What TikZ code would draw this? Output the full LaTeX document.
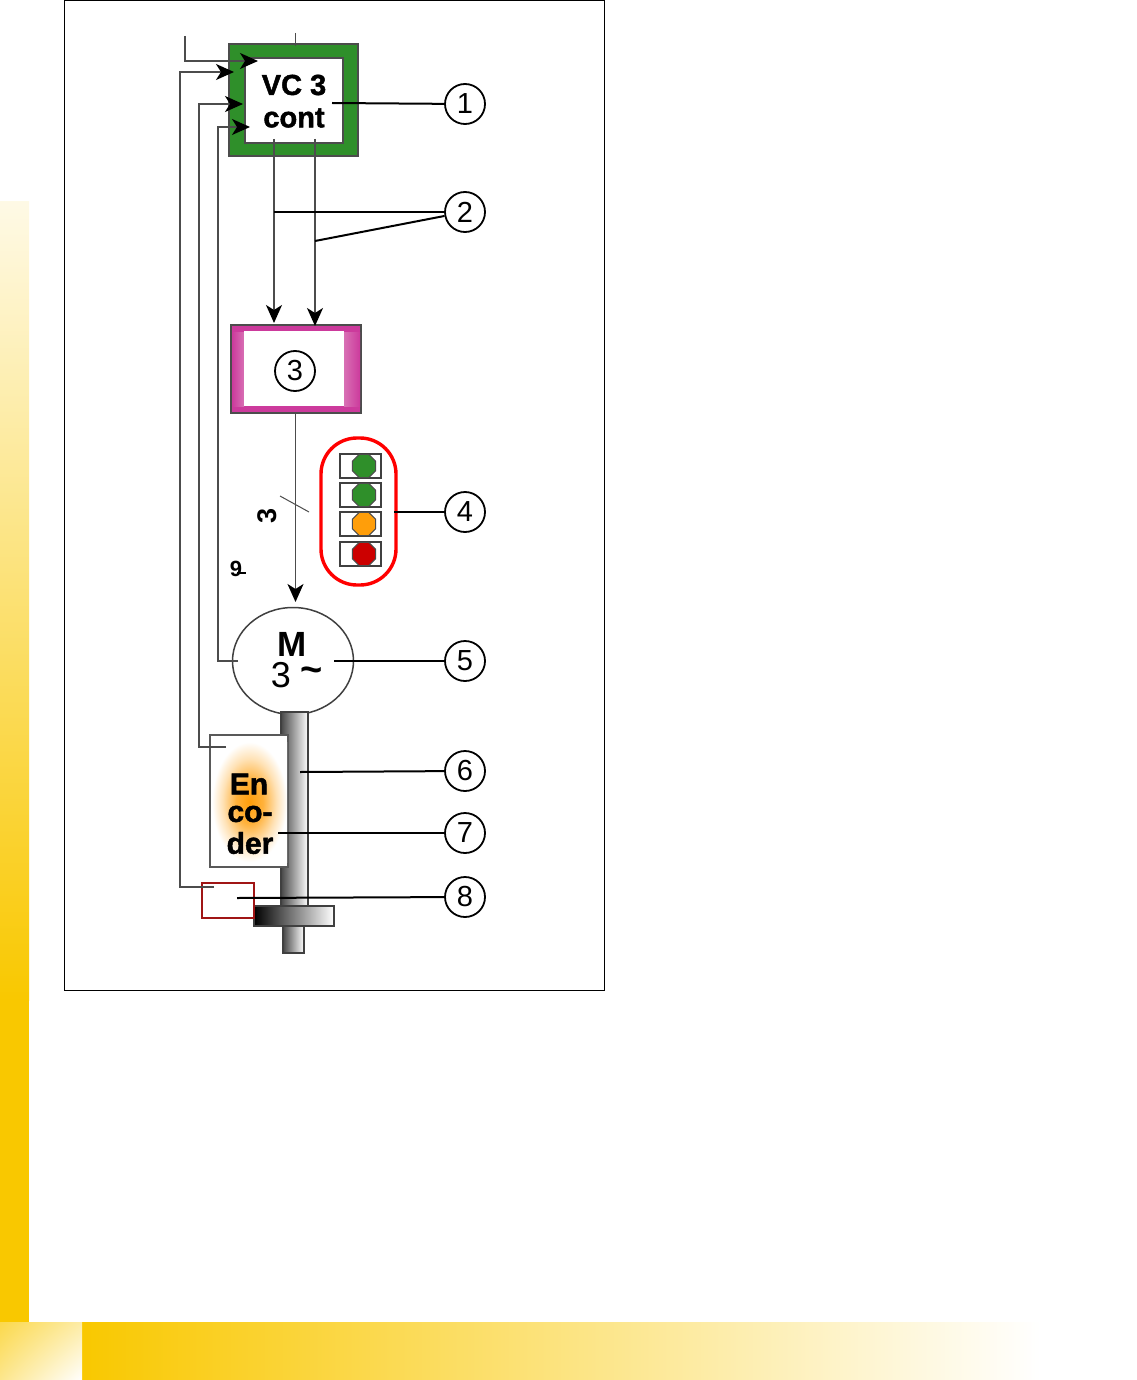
\documentclass[tikz,border=0pt]{standalone}
\usepackage{fontspec}
\setmainfont{Liberation Sans}
\newfontfamily\heavy[FakeBold=1.6]{Liberation Sans Bold}
\usetikzlibrary{arrows.meta,shapes.geometric,calc,shadings}
\definecolor{vcgreen}{HTML}{2F8F2A}
\definecolor{pinkb}{HTML}{CC3A9C}
\definecolor{pinkl}{HTML}{D870B4}
\definecolor{amber}{HTML}{FF9E0A}
\definecolor{stopred}{HTML}{CC0000}
\definecolor{darkred}{HTML}{A01515}
\definecolor{gold}{HTML}{F9C800}
\pgfdeclareradialshading{glow}{\pgfpoint{0bp}{0bp}}{color(0bp)=(amber); color(9bp)=(amber!80!white); color(18bp)=(amber!30!white); color(25bp)=(white); color(50bp)=(white)}
\tikzset{
  x=1pt,y=-1pt,
  wire/.style={draw=black!70,line width=1.6pt},
  leader/.style={draw=black,line width=2pt},
  tipped/.style={wire,-{Stealth[length=18pt,width=16pt,inset=5pt,black]}},
  numc/.style={circle,draw=black,line width=1.8pt,minimum size=40pt,inner sep=0pt,font=\fontsize{29}{29}\selectfont,fill=white},
  lampbox/.style={draw=black!75,fill=white,line width=1.2pt,minimum width=41pt,minimum height=24pt,inner sep=0pt},
  lamp/.style={regular polygon,regular polygon sides=8,draw=black!70,line width=1pt,minimum size=25pt,inner sep=0pt},
  btext/.style={font=\fontsize{29}{29}\heavy\selectfont,inner sep=0pt},
  enctext/.style={font=\fontsize{30}{30}\heavy\selectfont,inner sep=0pt},
  pt/.style={inner sep=0pt,minimum size=0pt},
}
\begin{document}
\begin{tikzpicture}
\useasboundingbox (0,0) rectangle (1136,1380);
% page decoration
\shade[top color=gold!10!white,bottom color=gold] (0,202) rectangle (29,1000);
\fill[gold] (0,1000) rectangle (29,1322);
\shade[left color=gold,right color=white] (82,1322) rectangle (1040,1380);
\shade[upper left=gold!70!white,upper right=gold!35!white,lower left=gold!45!white,lower right=white] (0,1322) rectangle (82,1380);
% frame
\node[draw=black,line width=1pt,fill=white,minimum width=540pt,minimum height=989.5pt,inner sep=0pt] (frame) at (334,495.5) {};
% controller
\fill[vcgreen,draw=black!70,line width=1.5pt,even odd rule] (229,44) rectangle (358,156) (245,58) rectangle (343,143);
\node[pt,minimum width=98pt,minimum height=85pt] (vc) at (294,100.5) {};
\node[btext] (vct) at (294,85) {VC 3};
\node[btext] (vcc) at (294,118) {cont};
% drive
\fill[pinkb,draw=black!70,line width=1.5pt] (231,325) rectangle (361,413);
\shade[left color=pinkb,right color=pinkl] (232,332) rectangle (244,406);
\shade[left color=pinkl,right color=pinkb] (344,332) rectangle (360,406);
\fill[white] (244,331) rectangle (344,406);
\node[numc] (n3) at (295,371) {3};
% lamps
\node[draw=red,line width=3.4pt,rounded corners=36pt,minimum width=75pt,minimum height=147pt,inner sep=0pt] (signal) at (358.5,511.5) {};
\foreach \nm/\yy/\cc in {a/466/vcgreen,b/495/vcgreen,c/524/amber,d/554/stopred}{
  \node[lampbox] (box\nm) at (360.5,\yy) {};
  \node[lamp,fill=\cc] (lamp\nm) at (364,\yy) {};
}
% motor
\node[ellipse,draw=black!75,line width=1.5pt,fill=white,minimum width=121pt,minimum height=107pt,inner sep=0pt] (motor) at (293,661) {};
\node[font=\fontsize{35}{35}\bfseries\selectfont,inner sep=0pt] (mm) at (292,644) {M};
\node[font=\fontsize{36}{36}\selectfont,inner sep=0pt] (mt) at (281,675) {3};
\node[font=\fontsize{38}{38}\bfseries\selectfont,inner sep=0pt] (mw) at (312,675) {\char"7E};
% shaft
\shade[left color=black!72,middle color=black!12,right color=white,draw=black!75,line width=1.5pt] (281,712) rectangle (308,906);
\shade[left color=black!72,middle color=black!15,right color=white,draw=black!75,line width=1.5pt] (283,926) rectangle (304,953);
\shade[left color=black,right color=white,draw=black!75,line width=1.5pt] (254,906) rectangle (334,926);
% encoder
\node[draw=black!65,line width=1.5pt,fill=white,minimum width=78pt,minimum height=132pt,inner sep=0pt] (enc) at (249,801) {};
\shade[shading=glow] (212,742) rectangle (287,862);
\node[enctext] (encA) at (249,784) {En};
\node[enctext] (encB) at (250,814) {co-};
\node[enctext] (encC) at (250,843) {der};
% sensor
\node[draw=darkred,line width=2.6pt,minimum width=52pt,minimum height=35pt,inner sep=0pt] (sensor) at (228,900.5) {};
% free ends
\coordinate (t1) at (295.5,33); \coordinate (t2) at (295.5,46);
\coordinate (a0) at (185,36);
\coordinate (a1) at (258,61);
\coordinate (b1) at (234,72);
\coordinate (c1) at (243,104);
\coordinate (d1) at (250,127);
\coordinate (sb) at (214,887);
\coordinate (eb) at (226,747);
\coordinate (mb) at (238,661);
\coordinate (o1) at (274,139);
\coordinate (o2) at (315,139);
\coordinate (i1) at (274,323);
\coordinate (i2) at (315,326);
\coordinate (dr) at (295.5,413);
\coordinate (mi) at (295.5,602);
\coordinate (ta) at (280,496);
\coordinate (tb) at (309,512);
\coordinate (g1) at (237,573);
\coordinate (g2) at (246,573);
% connectors
\draw[wire] (t1) -- (t2);
\draw[tipped] (a0) |- (a1);
\draw[tipped] (sb) -| (180,72) -- (b1);
\draw[tipped] (eb) -| (199,104) -- (c1);
\draw[tipped] (mb) -| (218,127) -- (d1);
\draw[tipped] (o1) -- (i1);
\draw[tipped] (o2) -- (i2);
\draw[tipped] (dr) -- (mi);
\draw[draw=black!70,line width=1pt] (ta) -- (tb);
\node[rotate=90,font=\fontsize{27}{27}\bfseries\selectfont,inner sep=0pt] (three) at (267,516) {3};
\node[font=\fontsize{22}{22}\bfseries\selectfont,inner sep=0pt] (nine) at (236,569) {9};
\draw[draw=black,line width=1.6pt] (g1) -- (g2);
% numbered callouts
\foreach \i/\yy in {1/104,2/212,4/512,5/661,6/771,7/833,8/897}{
  \node[numc] (n\i) at (465,\yy) {\i};
}
\coordinate (p1) at (332,103);
\coordinate (p2a) at (274,212);
\coordinate (p2b) at (315,241);
\coordinate (p4) at (394,512);
\coordinate (p5) at (334,661);
\coordinate (p6) at (300,772);
\coordinate (p7) at (278,833);
\coordinate (p8) at (237,898);
\draw[leader] (n1) -- (p1);
\draw[leader] (n2) -- (p2a);
\draw[leader] (n2) -- (p2b);
\draw[leader] (n4) -- (p4);
\draw[leader] (n5) -- (p5);
\draw[leader] (n6) -- (p6);
\draw[leader] (n7) -- (p7);
\draw[leader] (n8) -- (p8);
\end{tikzpicture}
\end{document}
